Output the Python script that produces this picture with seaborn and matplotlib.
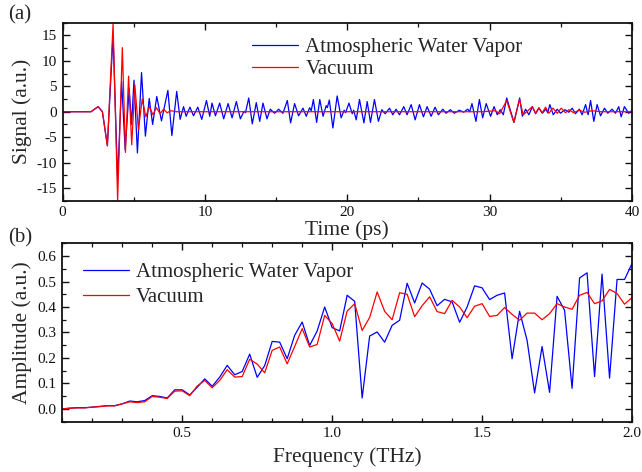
import numpy as np
import pandas as pd
import seaborn as sns
import matplotlib
matplotlib.use("Agg")
import matplotlib.pyplot as plt
from matplotlib.ticker import MultipleLocator

# ---------------- data ----------------
# (a) time-domain signal, extrema
water_t = [0, 2.0, 2.5, 2.8, 3.15, 3.55, 3.87, 4.15, 4.4, 4.68, 4.85, 5.02, 5.26, 5.55, 5.82,
           6.09, 6.33, 6.62, 6.95, 7.4, 7.68, 8.02, 8.26, 8.5, 8.68, 8.95, 9.2, 9.5, 9.78,
           10.11, 10.34, 10.5, 10.74, 11.04, 11.32, 11.63, 11.91, 12.21, 12.49, 12.75, 12.85,
           13.08, 13.33, 13.61, 13.85, 14.08, 14.36, 14.59, 14.9, 15.18, 15.48, 15.79, 16.02,
           16.3, 16.58, 16.89, 17.12, 17.36, 17.47, 17.62, 17.85, 18.07, 18.3, 18.52, 18.6,
           18.74, 18.99, 19.29, 19.57, 19.78, 19.88, 20.12, 20.35, 20.45, 20.63, 20.86, 21.17,
           21.4, 21.63, 21.91, 22.19, 22.43, 22.66, 22.97, 23.2, 23.43, 23.67, 23.97, 24.2,
           24.49, 24.77, 25.07, 25.35, 25.61, 25.89, 26.17, 26.4, 26.71, 26.94, 27.24, 27.52,
           27.87, 28.18, 28.46, 28.6, 28.76, 29.04, 29.28, 29.51, 29.76, 30.07, 30.31, 30.54,
           30.75, 30.96, 31.2, 31.71, 32.11, 32.3, 32.53, 32.76, 33.0, 33.23, 33.46, 33.7,
           33.95, 34.08, 34.23, 34.47, 34.75, 34.98, 35.29, 35.57, 35.8, 36.03, 36.3, 36.5,
           36.74, 36.92, 37.09, 37.32, 37.55, 37.79, 38.07, 38.3, 38.6, 38.84, 39.07, 39.24,
           39.47, 39.77, 40.0]
water_v = [0, 0, 1.0, 0, -6.7, 15.1, -13.4, 6.0, -7.5, 4.5, -2.5, 6.2, -8.1, 7.7, -4.8,
           2.6, -2.5, 3.0, -1.8, 4.2, -4.7, 4.0, -1.5, 1.0, -0.9, 0.9, -0.8, 0.9, -1.5,
           2.2, -0.9, 1.7, -0.8, 1.7, -1.4, 1.6, -1.2, 2.0, -1.4, 0.1, -0.2,
           2.7, -2.4, 1.8, -1.9, 1.7, -1.4, 0.5, -0.3, 0.5, -0.3, 2.2, -2.2,
           1.6, -0.8, 0.7, -0.9, 0.8, 0.2, 2.4, -2.1, 2.4, -0.9, 1.2, 0.8,
           2.3, -3.2, 3.1, -1.2, 0.3, -0.2, 1.7, -0.4, 0.3, -1.6, 2.4, -2.2,
           2.0, -2.1, 2.4, -1.9, 0.4, -0.4, 0.7, -0.6, 0.5, -0.6, 1.0, -0.6,
           1.4, -1.6, 1.4, -1.0, 1.0, -0.9, 0.9, -0.6, 0.5, -0.3, 0.4, -0.3,
           0.3, -0.1, 0.5, 0.0, 1.6, -1.9, 2.4, -1.2, 1.6, -0.9, 1.0, -0.6,
           0.4, -0.6, 2.7, -2.1, 2.7, -0.9, 0.5, -0.6, 1.0, -0.4, 0.7, -0.3,
           0.5, -0.2, 1.4, -0.6, 0.5, -0.3, 0.4, -0.1, 0.7, -0.4, 0.5, -0.6,
           1.4, -0.6, 2.2, -1.9, 1.4, -0.8, 0.7, -0.3, 0.5, -0.3, 1.0, -1.0,
           1.0, -0.3, 0.3]

vacuum_t = [0, 2.0, 2.5, 2.8, 3.15, 3.55, 3.87, 4.2, 4.42, 4.64, 4.86, 5.08, 5.33, 5.6,
            5.85, 6.1, 6.35, 6.6, 6.85, 7.1, 7.35, 7.6, 8.0, 29.5, 30.4, 30.7, 31.2, 31.7,
            32.1, 32.36, 32.65, 33.0, 33.23, 33.46, 33.7, 33.93, 34.16, 34.45, 34.75, 35.03,
            35.33, 35.57, 35.9, 36.3, 36.7, 37.2, 37.8, 40.0]
vacuum_v = [0, 0, 1.0, 0, -6.7, 17.3, -17.4, 12.6, -8.0, 7.0, -6.5, 5.3, -3.5, 2.5,
            -1.0, 1.0, -0.6, 0.8, -0.4, 0.5, -0.2, 0.2, 0, 0, 0.2, -0.4, 2.2, -2.1,
            2.4, -0.6, 0.1, 1.0, -0.3, 0.8, -0.2, 0.9, -0.3, 0.7, -0.3, 0.7,
            -0.2, 0.4, -0.2, 0.3, -0.1, 0.2, 0, 0]

# (b) amplitude spectra
freq = [round(0.1 + 0.025 * i, 3) for i in range(77)]
amp_water = [0.000, 0.003, 0.005, 0.005, 0.007, 0.010, 0.013, 0.013, 0.020, 0.031,
             0.028, 0.033, 0.052, 0.049, 0.043, 0.075, 0.075, 0.055, 0.085, 0.118,
             0.089, 0.125, 0.171, 0.134, 0.147, 0.215, 0.124, 0.170, 0.265, 0.262,
             0.197, 0.289, 0.341, 0.249, 0.306, 0.400, 0.319, 0.306, 0.446, 0.422,
             0.043, 0.286, 0.302, 0.262, 0.328, 0.348, 0.493, 0.416, 0.494, 0.470,
             0.405, 0.430, 0.420, 0.340, 0.400, 0.483, 0.475, 0.429, 0.446, 0.455,
             0.197, 0.383, 0.269, 0.063, 0.245, 0.065, 0.442, 0.387, 0.081, 0.514,
             0.534, 0.127, 0.529, 0.121, 0.508, 0.508, 0.571]
amp_vacuum = [0.000, 0.003, 0.004, 0.004, 0.007, 0.009, 0.012, 0.012, 0.020, 0.028,
              0.025, 0.028, 0.049, 0.046, 0.041, 0.070, 0.071, 0.052, 0.090, 0.112,
              0.083, 0.112, 0.154, 0.125, 0.127, 0.195, 0.176, 0.142, 0.230, 0.243,
              0.177, 0.245, 0.315, 0.243, 0.253, 0.367, 0.335, 0.266, 0.384, 0.413,
              0.308, 0.359, 0.459, 0.383, 0.350, 0.456, 0.450, 0.362, 0.405, 0.440,
              0.382, 0.374, 0.426, 0.400, 0.358, 0.403, 0.413, 0.363, 0.367, 0.398,
              0.371, 0.348, 0.376, 0.376, 0.350, 0.374, 0.413, 0.400, 0.391, 0.446,
              0.457, 0.413, 0.424, 0.469, 0.453, 0.411, 0.437]

label_water = "Atmospheric Water Vapor"
label_vac = "Vacuum"
BLUE = "#0000ff"
RED = "#ff0000"

# ---------------- style ----------------
sns.set_theme(style="ticks")
plt.rcParams["font.family"] = ["Liberation Serif", "DejaVu Serif"]
plt.rcParams["axes.unicode_minus"] = False
plt.rcParams.update({
    "xtick.direction": "in", "ytick.direction": "in",
    "xtick.top": True, "ytick.right": True,
    "xtick.major.size": 5, "ytick.major.size": 5,
    "xtick.minor.size": 3, "ytick.minor.size": 3,
    "xtick.major.width": 1.0, "ytick.major.width": 1.0,
    "xtick.minor.width": 0.9, "ytick.minor.width": 0.9,
    "xtick.color": "#111111", "ytick.color": "#111111",
    "axes.linewidth": 1.3, "axes.edgecolor": "#111111",
})

fig = plt.figure(figsize=(6.42, 4.72), dpi=100)
ax1 = fig.add_axes([0.0974, 0.5748, 0.887, 0.377])
ax2 = fig.add_axes([0.0970, 0.1066, 0.8875, 0.378])

df_a_w = pd.DataFrame({"t": water_t, "v": water_v})
df_a_v = pd.DataFrame({"t": vacuum_t, "v": vacuum_v})
sns.lineplot(data=df_a_w, x="t", y="v", ax=ax1, color=BLUE, lw=0.9,
             label=label_water, estimator=None, sort=False)
sns.lineplot(data=df_a_v, x="t", y="v", ax=ax1, color=RED, lw=0.9,
             label=label_vac, estimator=None, sort=False)

df_b = pd.DataFrame({"f": freq, "w": amp_water, "v": amp_vacuum})
sns.lineplot(data=df_b, x="f", y="w", ax=ax2, color=BLUE, lw=0.9,
             label=label_water, estimator=None)
sns.lineplot(data=df_b, x="f", y="v", ax=ax2, color=RED, lw=0.9,
             label=label_vac, estimator=None)

ax1.set_xlim(0, 40)
ax1.set_ylim(-17.5, 17.5)
ax1.xaxis.set_major_locator(MultipleLocator(10))
ax1.xaxis.set_minor_locator(MultipleLocator(5))
ax1.yaxis.set_major_locator(MultipleLocator(5))
ax1.yaxis.set_minor_locator(MultipleLocator(2.5))
ax1.set_xlabel("Time (ps)", fontsize=15.5, labelpad=1)
ax1.set_ylabel("Signal (a.u.)", fontsize=15.5, labelpad=3)

ax2.set_xlim(0.1, 2.0)
ax2.set_ylim(-0.05, 0.65)
ax2.xaxis.set_major_locator(MultipleLocator(0.5))
ax2.xaxis.set_minor_locator(MultipleLocator(0.1))
ax2.yaxis.set_major_locator(MultipleLocator(0.1))
ax2.yaxis.set_minor_locator(MultipleLocator(0.05))
ax2.set_xlabel("Frequency (THz)", fontsize=15.5, labelpad=5)
ax2.set_ylabel("Amplitude (a.u.)", fontsize=15.5, labelpad=4)

for ax in (ax1, ax2):
    ax.tick_params(which="both", labelsize=11, pad=4)
    for lab in ax.get_xticklabels() + ax.get_yticklabels():
        lab.set_color("#111111")

ax1.legend(loc="upper left", bbox_to_anchor=(0.333, 0.915), frameon=False,
           fontsize=15, handlelength=2.2, handletextpad=0.35, labelspacing=0.1,
           borderpad=0, borderaxespad=0)
ax2.legend(loc="upper left", bbox_to_anchor=(0.036, 0.89), frameon=False,
           fontsize=15, handlelength=2.2, handletextpad=0.35, labelspacing=0.25,
           borderpad=0, borderaxespad=0)

fig.text(0.012, 0.968, "(a)", fontsize=15, va="center", ha="left")
fig.text(0.012, 0.497, "(b)", fontsize=15, va="center", ha="left")

fig.savefig("out.png", dpi=100)
